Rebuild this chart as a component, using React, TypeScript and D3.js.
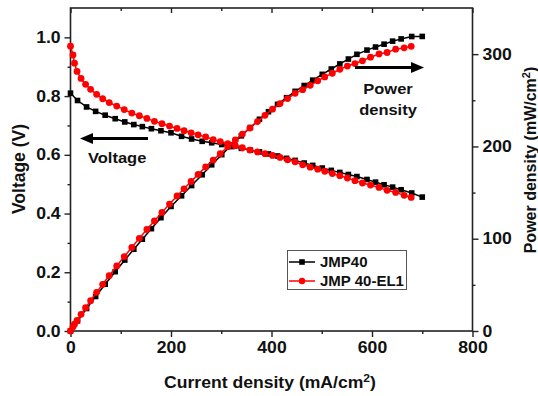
import React, { useEffect, useRef } from 'react';
import * as d3 from 'd3';

const W = 538;
const H = 396;

// JMP40 (black squares)
const currentA = [0, 14, 32, 50, 69, 89, 108, 126, 143, 161, 180, 200, 221, 241, 262, 281, 301, 321, 340, 358,
  376, 394, 412, 430, 447, 465, 482, 501, 519, 536, 553, 570, 590, 607, 624, 641, 658, 679, 700];
const voltageA = [0.81, 0.785, 0.763, 0.748, 0.735, 0.723, 0.712, 0.703, 0.696, 0.689, 0.682, 0.675, 0.663, 0.654,
  0.646, 0.641, 0.635, 0.628, 0.622, 0.616, 0.61, 0.603, 0.596, 0.588, 0.581, 0.572, 0.564, 0.555, 0.547, 0.54,
  0.533, 0.526, 0.516, 0.507, 0.498, 0.49, 0.481, 0.47, 0.456];
const powerA = [0, 11.0, 24.4, 37.4, 50.7, 64.3, 76.9, 88.6, 99.5, 110.9, 122.8, 135.0, 146.5, 157.6, 169.3, 180.1,
  191.1, 201.6, 211.5, 220.5, 229.4, 237.6, 245.6, 252.8, 259.7, 266.0, 271.8, 278.1, 283.9, 289.4, 294.7, 299.8,
  304.4, 307.7, 310.8, 314.1, 316.5, 319.1, 319.2];

// JMP 40-EL1 (red circles)
const currentB = [0, 5, 8, 13, 21, 30, 40, 52, 64, 77, 92, 107, 122, 137, 152, 167, 182, 197, 212, 226, 240, 254,
  269, 284, 298, 313, 328, 342, 357, 372, 387, 402, 417, 432, 447, 462, 477, 492, 506, 521, 536, 551, 566, 581,
  597, 614, 630, 647, 664, 678];
const voltageB = [0.97, 0.94, 0.912, 0.884, 0.86, 0.84, 0.823, 0.806, 0.791, 0.778, 0.766, 0.754, 0.742, 0.733,
  0.724, 0.714, 0.706, 0.698, 0.69, 0.682, 0.675, 0.668, 0.661, 0.652, 0.645, 0.638, 0.631, 0.624, 0.616, 0.61,
  0.604, 0.598, 0.591, 0.583, 0.576, 0.566, 0.558, 0.551, 0.544, 0.536, 0.529, 0.521, 0.512, 0.504, 0.497, 0.489,
  0.479, 0.472, 0.462, 0.455];
const powerB = [0, 4.7, 7.3, 11.5, 18.1, 25.2, 32.9, 41.9, 50.6, 59.9, 70.5, 80.7, 90.5, 100.4, 110.0, 119.2, 128.5,
  137.5, 146.3, 154.1, 162.0, 169.7, 177.8, 185.2, 192.2, 199.7, 207.0, 213.4, 219.9, 226.9, 233.7, 240.4, 246.4,
  251.9, 257.5, 261.5, 266.2, 271.1, 275.3, 279.3, 283.5, 287.1, 289.8, 292.8, 296.7, 300.2, 301.8, 305.4, 306.8,
  308.5];

const xTicks = [0, 200, 400, 600, 800];
const xMinor = [100, 300, 500, 700];
const vTicks = [0, 0.2, 0.4, 0.6, 0.8, 1.0];
const vMinor = [0.1, 0.3, 0.5, 0.7, 0.9];
const pTicks = [0, 100, 200, 300];
const pMinor = [50, 150, 250];

const FONT = 'Arial, "Liberation Sans", sans-serif';
const SX = 1.1; // the original figure is a little stretched sideways

const App = () => {
  const svgRef = useRef<SVGSVGElement>(null);

  useEffect(() => {
    const svg = d3.select(svgRef.current);
    svg.selectAll('*').remove();

    const left = 70.5, right = 472.5, top = 8, bottom = 331;
    const x = d3.scaleLinear().domain([0, 800]).range([left, right]);
    const yV = d3.scaleLinear().domain([0, 1.1]).range([bottom, top]);
    const yP = d3.scaleLinear().domain([0, 350]).range([bottom, top]);

    svg.append('rect').attr('width', W).attr('height', H).attr('fill', '#fff');

    // axes
    const styleAxis = (g) => {
      g.select('.domain').remove();
      g.selectAll('line').attr('stroke', '#222').attr('stroke-width', 1.4);
      g.selectAll('text').attr('font-family', FONT).attr('font-weight', 'bold')
        .attr('font-size', 16).attr('fill', '#111').attr('transform', `scale(${SX},1)`);
    };

    styleAxis(svg.append('g').attr('transform', `translate(0,${bottom})`)
      .call(d3.axisBottom(x).tickValues(xTicks).tickSize(6).tickPadding(5).tickFormat(d3.format('d'))));
    styleAxis(svg.append('g').attr('transform', `translate(0,${bottom})`)
      .call(d3.axisBottom(x).tickValues(xMinor).tickSize(3).tickFormat(() => '')));
    styleAxis(svg.append('g').attr('transform', `translate(0,${top})`)
      .call(d3.axisTop(x).tickValues(xTicks).tickSize(-5).tickFormat(() => '')));
    styleAxis(svg.append('g').attr('transform', `translate(0,${top})`)
      .call(d3.axisTop(x).tickValues(xMinor).tickSize(-3).tickFormat(() => '')));

    styleAxis(svg.append('g').attr('transform', `translate(${left},0)`)
      .call(d3.axisLeft(yV).tickValues(vTicks).tickSize(6).tickPadding(3).tickFormat(d3.format('.1f'))));
    styleAxis(svg.append('g').attr('transform', `translate(${left},0)`)
      .call(d3.axisLeft(yV).tickValues(vMinor).tickSize(3).tickFormat(() => '')));

    styleAxis(svg.append('g').attr('transform', `translate(${right},0)`)
      .call(d3.axisRight(yP).tickValues(pTicks).tickSize(6).tickPadding(3).tickFormat(d3.format('d'))));
    styleAxis(svg.append('g').attr('transform', `translate(${right},0)`)
      .call(d3.axisRight(yP).tickValues(pMinor).tickSize(3).tickFormat(() => '')));

    // frame
    svg.append('rect')
      .attr('x', left).attr('y', top)
      .attr('width', right - left).attr('height', bottom - top)
      .attr('fill', 'none').attr('stroke', '#222').attr('stroke-width', 1.6);

    // series
    const series = [
      { name: 'JMP40', cur: currentA, v: voltageA, p: powerA, color: '#000', shape: 'square' },
      { name: 'JMP 40-EL1', cur: currentB, v: voltageB, p: powerB, color: '#ff0000', shape: 'circle' },
    ];

    series.forEach(s => {
      [{ vals: s.v, y: yV }, { vals: s.p, y: yP }].forEach(({ vals, y }) => {
        const pts = s.cur.map((c, i) => [x(c), y(vals[i])] as [number, number]);
        svg.append('path')
          .attr('d', d3.line()(pts))
          .attr('fill', 'none')
          .attr('stroke', s.color)
          .attr('stroke-width', 1.5);
        if (s.shape === 'square') {
          svg.append('g').selectAll('rect').data(pts).enter().append('rect')
            .attr('x', d => d[0] - 2.8).attr('y', d => d[1] - 2.8)
            .attr('width', 5.6).attr('height', 5.6)
            .attr('fill', s.color);
        } else {
          svg.append('g').selectAll('circle').data(pts).enter().append('circle')
            .attr('cx', d => d[0]).attr('cy', d => d[1]).attr('r', 3.4)
            .attr('fill', s.color);
        }
      });
    });

    // annotations
    const arrow = (x1, x2, y) => {
      const dir = Math.sign(x2 - x1);
      svg.append('line')
        .attr('x1', x1).attr('x2', x2 - dir * 10).attr('y1', y).attr('y2', y)
        .attr('stroke', '#000').attr('stroke-width', 3.2);
      svg.append('polygon')
        .attr('points', `${x2},${y} ${x2 - dir * 13},${y - 5.5} ${x2 - dir * 13},${y + 5.5}`)
        .attr('fill', '#000');
    };
    arrow(148, 80, 138.5);
    arrow(355, 424, 67.5);

    const label = (txt, tx, ty, anchor = 'start') =>
      svg.append('text').attr('transform', `translate(${tx},${ty}) scale(${SX},1)`)
        .attr('text-anchor', anchor)
        .attr('font-family', FONT).attr('font-weight', 'bold').attr('font-size', 15)
        .attr('fill', '#111').text(txt);
    label('Voltage', 88, 163);
    label('Power', 388, 94, 'middle');
    label('density', 388, 115, 'middle');

    // axis titles
    const xt = svg.append('text').attr('transform', `translate(270,388) scale(${SX},1)`)
      .attr('text-anchor', 'middle')
      .attr('font-family', FONT).attr('font-weight', 'bold').attr('font-size', 16).attr('fill', '#111');
    xt.append('tspan').text('Current density (mA/cm');
    xt.append('tspan').attr('font-size', 11).attr('dy', -6).text('2');
    xt.append('tspan').attr('dy', 6).text(')');

    svg.append('text')
      .attr('transform', `translate(24.5,169) rotate(-90) scale(1,${SX})`)
      .attr('text-anchor', 'middle')
      .attr('font-family', FONT).attr('font-weight', 'bold').attr('font-size', 17.5).attr('fill', '#111')
      .text('Voltage (V)');

    const pt = svg.append('text')
      .attr('transform', `translate(535.5,160) rotate(-90)`)
      .attr('text-anchor', 'middle')
      .attr('font-family', FONT).attr('font-weight', 'bold').attr('font-size', 16).attr('fill', '#111');
    pt.append('tspan').text('Power density (mW/cm');
    pt.append('tspan').attr('font-size', 11).attr('dy', -6).text('2');
    pt.append('tspan').attr('dy', 6).text(')');

    // legend
    const lg = svg.append('g');
    lg.append('rect').attr('x', 287.5).attr('y', 250.5).attr('width', 119).attr('height', 39)
      .attr('fill', '#fff').attr('stroke', '#555').attr('stroke-width', 1);
    series.forEach((s, i) => {
      const ly = 262 + i * 19;
      lg.append('line').attr('x1', 289).attr('x2', 315).attr('y1', ly).attr('y2', ly)
        .attr('stroke', s.color).attr('stroke-width', 1.5);
      if (s.shape === 'square') {
        lg.append('rect').attr('x', 302 - 2.8).attr('y', ly - 2.8).attr('width', 5.6).attr('height', 5.6).attr('fill', s.color);
      } else {
        lg.append('circle').attr('cx', 302).attr('cy', ly).attr('r', 3.2).attr('fill', s.color);
      }
      lg.append('text').attr('x', 320).attr('y', ly + 5)
        .attr('font-family', FONT).attr('font-weight', 'bold').attr('font-size', 15).attr('fill', '#111')
        .text(s.name);
    });
  }, []);

  return (
    <svg ref={svgRef} width={W} height={H} style={{ position: 'absolute', left: 0, top: 0 }}></svg>
  );
};

export default App;
